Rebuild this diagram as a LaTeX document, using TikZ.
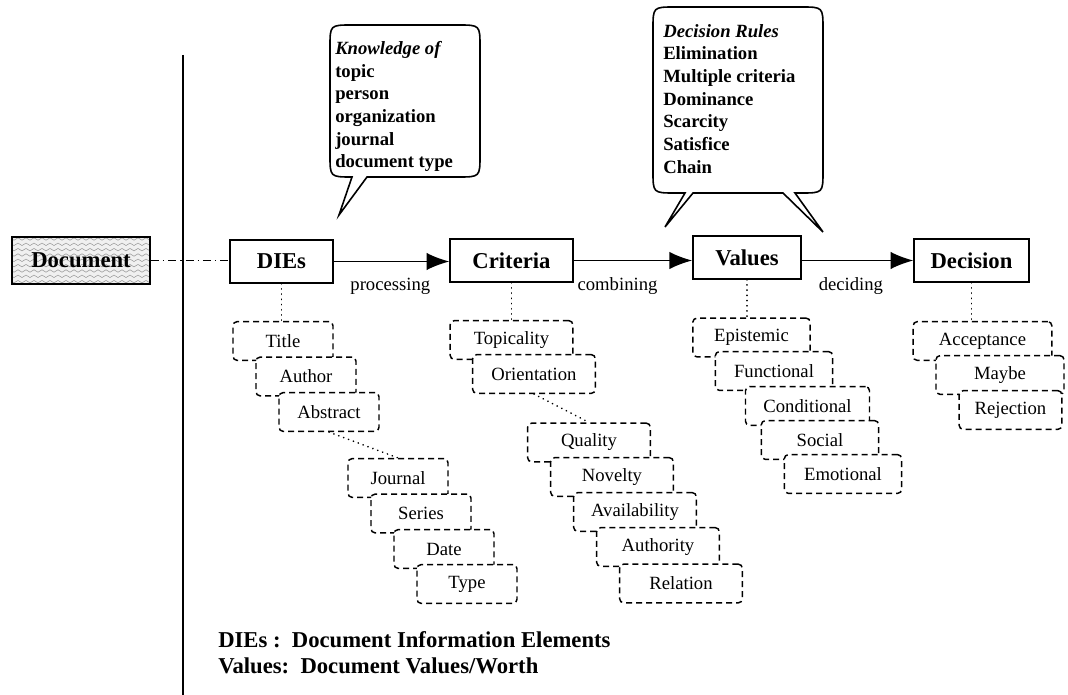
\documentclass[tikz,border=0pt]{standalone}
\usepackage{fontspec}
\setmainfont{Liberation Serif}
\usetikzlibrary{arrows.meta, positioning, patterns}

% wavy fill of the document box
\pgfdeclarepatternformonly{wavelines}{\pgfqpoint{-1pt}{-1pt}}{\pgfqpoint{7pt}{5pt}}{\pgfqpoint{6pt}{4pt}}{%
  \pgfsetlinewidth{0.4pt}
  \pgfpathmoveto{\pgfqpoint{0pt}{2pt}}
  \pgfpathcurveto{\pgfqpoint{1pt}{3.2pt}}{\pgfqpoint{2pt}{3.2pt}}{\pgfqpoint{3pt}{2pt}}
  \pgfpathcurveto{\pgfqpoint{4pt}{0.8pt}}{\pgfqpoint{5pt}{0.8pt}}{\pgfqpoint{6pt}{2pt}}
  \pgfusepath{stroke}}

\begin{document}
\begin{tikzpicture}[x=0.75pt, y=-0.75pt]
    % styles
    \tikzstyle{stage} = [rectangle, draw, line width=1.3pt, inner sep=0pt, minimum height=32pt, font=\fontsize{17}{20}\selectfont\bfseries]
    \tikzstyle{source} = [stage, minimum width=103.5pt, minimum height=35pt, preaction={fill=gray!12}, pattern=wavelines, pattern color=gray!80]
    \tikzstyle{item} = [rectangle, draw, line width=1.1pt, dash pattern=on 4.5pt off 3pt, rounded corners=3pt, fill=white, inner sep=0pt, minimum height=29pt, font=\fontsize{14}{16}\selectfont]
    \tikzstyle{dieitem} = [item, minimum width=75pt]
    \tikzstyle{critem} = [item, minimum width=92pt]
    \tikzstyle{valitem} = [item, minimum width=88pt]
    \tikzstyle{flow} = [draw, line width=1.1pt, -{Latex[length=17pt, width=13pt]}]
    \tikzstyle{link} = [draw, line width=1.3pt, dash pattern=on 0.1pt off 3.8pt, line cap=round]
    \tikzstyle{bubble} = [draw, line width=1.2pt, fill=white]
    \tikzstyle{rules} = [align=left, anchor=north west, inner sep=0pt, font=\fontsize{14}{17}\selectfont\bfseries]
    \tikzstyle{verb} = [inner sep=0pt, below=12pt, font=\fontsize{14}{16}\selectfont]
    \tikzstyle{key} = [anchor=base west, inner sep=0pt, font=\fontsize{17}{20}\selectfont\bfseries]

    \useasboundingbox (0,0) rectangle (1068,695);

    % separator
    \draw[line width=1.3pt] (183,55) -- (183,695);

    % callouts
    \draw[bubble] (339,215) -- (352,177) .. controls (330,177) .. (330,155) -- (330,47)
        .. controls (330,25) .. (352,25) -- (458,25) .. controls (480,25) .. (480,47)
        -- (480,155) .. controls (480,177) .. (458,177) -- (367,177) -- cycle;
    \node[rules] (know) at (335,41) {\textit{Knowledge of}\\topic\\person\\organization\\journal\\document type};

    \draw[bubble] (665,227) -- (693,193) -- (783,193) -- (823,232) -- (795,193) -- (801,193)
        .. controls (823,193) .. (823,171) -- (823,29) .. controls (823,7) .. (801,7)
        -- (675,7) .. controls (653,7) .. (653,29) -- (653,171) .. controls (653,193) .. (675,193)
        -- (685,193) -- cycle;
    \node[rules] (rule) at (663,24) {\textit{Decision Rules}\\Elimination\\Multiple criteria\\Dominance\\Scarcity\\Satisfice\\Chain};

    % main chain
    \node[source] (doc) at (81,260.5) {Document};
    \node[stage, minimum width=77pt] (dies) at (281.5,261.5) {DIEs};
    \node[stage, minimum width=92pt] (crit) at (511.5,260.5) {Criteria};
    \node[stage, minimum width=81pt] (vals) at (747,257.5) {Values};
    \node[stage, minimum width=86pt] (dec) at (971.5,260.5) {Decision};

    \draw[line width=0.9pt, dash pattern=on 6pt off 3pt on 1pt off 3pt] (doc.east) -- (doc.east -| dies.west);
    \path[flow] (dies.east) -- (dies.east -| crit.west) node[verb, pos=0.49] {processing};
    \path[flow] (crit.east) -- (crit.east -| vals.west) node[verb, pos=0.37] {combining};
    \path[flow] (vals.east |- dec.west) -- (dec.west) node[verb, pos=0.44] {deciding};

    % DIEs
    \node[dieitem] (title) at (283,341) {Title};
    \node[dieitem] (author) at (306,376.5) {Author};
    \node[dieitem] (abstract) at (329,412) {Abstract};
    \node[dieitem] (journal) at (398,478) {Journal};
    \node[dieitem] (series) at (421,513.5) {Series};
    \node[dieitem] (date) at (444,549) {Date};
    \node[dieitem] (type) at (467,584) {Type};

    % criteria
    \node[critem] (topic) at (511.5,340) {Topicality};
    \node[critem] (orient) at (534,374) {Orientation};
    \node[critem] (quality) at (589,442.5) {Quality};
    \node[critem] (novelty) at (612,477) {Novelty};
    \node[critem] (avail) at (635,512) {Availability};
    \node[critem] (authority) at (658,547) {Authority};
    \node[critem] (relation) at (681,583.5) {Relation};

    % values
    \node[valitem] (epist) at (751.5,337.5) {Epistemic};
    \node[valitem] (funct) at (774,371) {Functional};
    \node[valitem, minimum width=93pt] (cond) at (807.5,406) {Conditional};
    \node[valitem] (social) at (820,440) {Social};
    \node[valitem] (emot) at (843,474) {Emotional};

    % decision
    \node[item, minimum width=104pt] (accept) at (982.5,341) {Acceptance};
    \node[item, minimum width=96pt] (maybe) at (1000,375) {Maybe};
    \node[item, minimum width=77pt] (reject) at (1010.5,410) {Rejection};

    % dotted links
    \draw[link] (dies.south) -- (dies.south |- title.north);
    \draw[link] (abstract.south) -- (journal.north);
    \draw[link] (crit.south) -- (crit.south |- topic.north);
    \draw[link] (orient.south) -- (quality.north);
    \draw[link] (vals.south) -- (vals.south |- epist.north);
    \draw[link] (dec.south) -- (dec.south |- accept.north);

    % legend
    \node[key] (key1) at (218,647) {DIEs :\ \ Document Information Elements};
    \node[key] (key2) at (218,673) {Values:\ \ Document Values/Worth};
\end{tikzpicture}
\end{document}
